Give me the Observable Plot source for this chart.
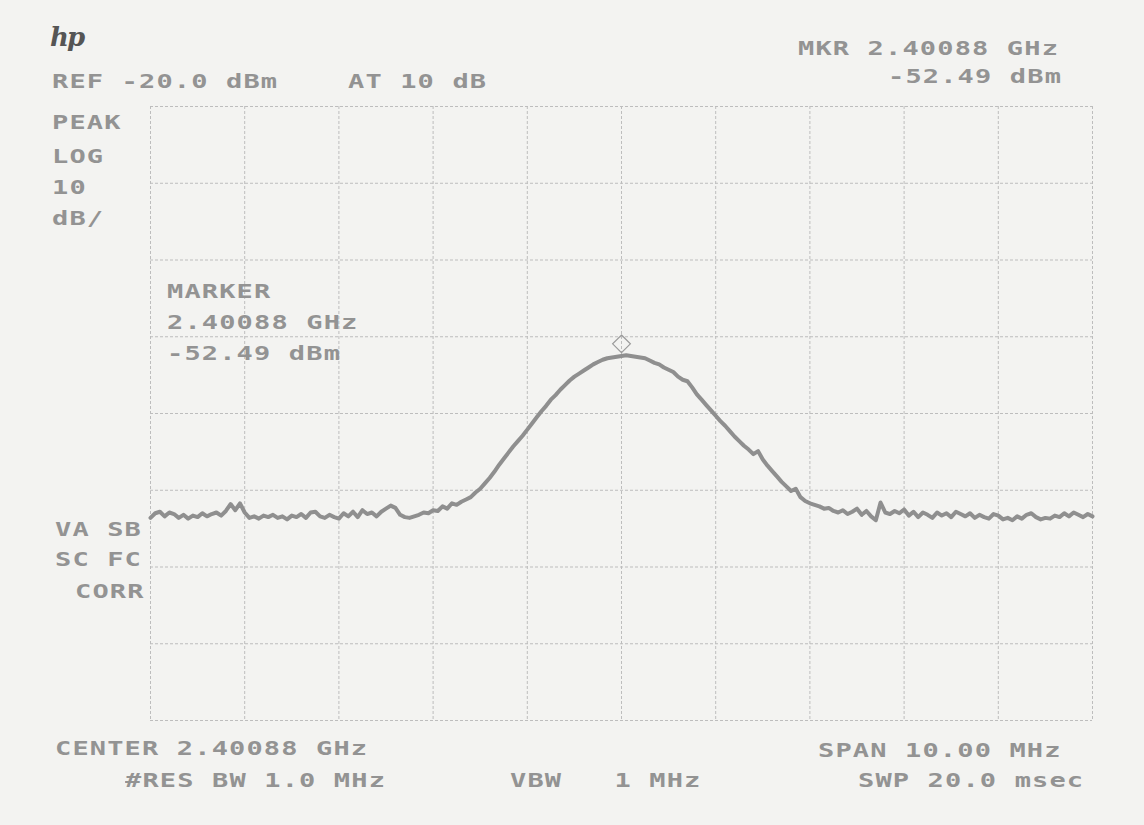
<!DOCTYPE html>
<html>
<head>
<meta charset="utf-8">
<script src="https://cdn.jsdelivr.net/npm/d3@7"></script>
<script src="https://cdn.jsdelivr.net/npm/@observablehq/plot@0.6"></script>
<style>
  html, body { margin: 0; padding: 0; background: #f3f3f1; }
  #wrap { position: relative; width: 1144px; height: 825px; overflow: hidden; background: #f3f3f1; }
  #wrap svg { position: absolute; left: 0; top: 0; background: transparent; }
  .t { position: absolute; font-family: "DejaVu Sans Mono", "Liberation Mono", monospace; font-size: 20px;
       font-weight: bold; line-height: 20px; letter-spacing: 0.85px; color: #939393; white-space: pre;
       transform: scaleX(1.35); transform-origin: 0 50%; }
  .logo { position: absolute; left: 50px; top: 22px; font-family: "DejaVu Serif", serif; font-style: italic;
          font-weight: bold; font-size: 26px; color: #555; letter-spacing: -2px; }
</style>
</head>
<body>
<div id="wrap"></div>
<script>
// ---- instrument settings (from the printout) ----
const centerGHz = 2.40088;
const spanMHz = 10.00;
const refLevel = -20.0;
const atten = 10;
const dbPerDiv = 10;
const resBW = 1.0;
const vbw = 1;
const sweepMs = 20.0;
const markerOffsetMHz = 0;
const markerLevel = -52.49;

// grid lines (frequency offset from center in MHz, level in dBm)
const gridFreqs = [-5, -4, -3, -2, -1, 0, 1, 2, 3, 4, 5];
const gridLevels = [-20, -30, -40, -50, -60, -70, -80, -90, -100];

// sweep trace: level (dBm) read every 0.05 MHz from -5 to +5 MHz
const sweepStart = -5, sweepStep = 0.05;
const levels = [
  -73.6,-73.0,-72.8,-73.4,-72.9,-73.1,-73.6,-73.2,-73.7,-73.3,
  -73.5,-73.0,-73.4,-73.1,-72.9,-73.3,-72.7,-71.8,-72.6,-71.7,
  -72.9,-73.6,-73.4,-73.7,-73.3,-73.5,-73.2,-73.6,-73.4,-73.8,
  -73.3,-73.5,-73.1,-73.6,-72.9,-72.8,-73.4,-73.6,-73.2,-73.5,
  -73.7,-73.0,-73.4,-72.8,-73.5,-72.6,-73.1,-72.9,-73.4,-72.8,
  -72.4,-72.0,-72.3,-73.2,-73.5,-73.6,-73.4,-73.2,-72.9,-73.0,
  -72.6,-72.7,-72.1,-72.4,-71.7,-71.9,-71.5,-71.2,-70.9,-70.3,
  -69.8,-69.1,-68.4,-67.6,-66.7,-65.9,-65.1,-64.3,-63.6,-62.9,
  -62.1,-61.3,-60.5,-59.7,-59.0,-58.2,-57.6,-56.9,-56.3,-55.7,
  -55.2,-54.8,-54.4,-54.0,-53.6,-53.3,-53.0,-52.8,-52.7,-52.6,
  -52.5,-52.4,-52.5,-52.6,-52.7,-52.8,-53.1,-53.4,-53.6,-54.0,
  -54.3,-54.6,-55.2,-55.6,-55.8,-56.6,-57.5,-58.2,-58.9,-59.6,
  -60.3,-61.0,-61.6,-62.3,-63.0,-63.6,-64.2,-64.7,-65.3,-64.9,
  -66.0,-66.8,-67.5,-68.2,-68.9,-69.5,-70.1,-69.8,-70.9,-71.4,
  -71.7,-71.9,-72.1,-72.4,-72.3,-72.7,-72.9,-72.6,-73.1,-72.8,
  -72.4,-73.2,-72.7,-73.4,-73.9,-71.6,-72.9,-73.1,-72.7,-73.0,
  -72.5,-73.3,-72.8,-73.5,-72.9,-73.2,-73.6,-72.9,-73.3,-73.0,
  -73.5,-72.8,-73.1,-73.4,-73.0,-73.6,-73.2,-73.5,-73.7,-73.1,
  -73.3,-73.8,-73.6,-73.9,-73.4,-73.7,-73.2,-73.0,-73.5,-73.8,
  -73.6,-73.7,-73.3,-73.5,-73.0,-73.4,-72.9,-73.2,-73.5,-73.1,
  -73.4
];

const trace = levels.map((v, i) => ({f: sweepStart + i * sweepStep, v}));
const marker = [{f: markerOffsetMHz, v: markerLevel}];

const gridStyle = {stroke: "#bdbdbd", strokeWidth: 1, strokeDasharray: "3,2"};

const chart = Plot.plot({
  width: 1144,
  height: 825,
  marginLeft: 150,
  marginRight: 52,
  marginTop: 106,
  marginBottom: 105,
  style: {background: "transparent"},
  x: {domain: [-spanMHz / 2, spanMHz / 2], axis: null},
  y: {domain: [refLevel - 8 * dbPerDiv, refLevel], axis: null},
  marks: [
    Plot.ruleX(gridFreqs, gridStyle),
    Plot.ruleY(gridLevels, gridStyle),
    Plot.line(trace, {x: "f", y: "v", stroke: "#8f8f8f", strokeWidth: 4, strokeLinejoin: "round"}),
    Plot.dot(marker, {x: "f", y: "v", symbol: "diamond2", r: 8, stroke: "#9a9a9a", strokeWidth: 1.2, fill: "none", dy: -12})
  ]
});

const wrap = document.getElementById("wrap");
wrap.appendChild(chart);

const f5 = v => v.toFixed(5);
const labels = [
  ["REF " + refLevel.toFixed(1) + " dBm", 52, 71],
  ["AT " + atten + " dB", 348, 71],
  ["MKR " + f5(centerGHz + markerOffsetMHz / 1000) + " GHz", 798, 38],
  [markerLevel.toFixed(2) + " dBm", 888, 66],
  ["PEAK", 52, 112],
  ["LOG", 52, 146],
  [String(dbPerDiv), 52, 177],
  ["dB/", 52, 208],
  ["MARKER", 167, 281],
  [f5(centerGHz + markerOffsetMHz / 1000) + " GHz", 167, 312],
  [markerLevel.toFixed(2) + " dBm", 167, 343],
  ["VA SB", 55, 519],
  ["SC FC", 55, 549],
  ["CORR", 75, 581],
  ["CENTER " + f5(centerGHz) + " GHz", 55, 738],
  ["#RES BW " + resBW.toFixed(1) + " MHz", 125, 770],
  ["VBW   " + vbw + " MHz", 510, 770],
  ["SPAN " + spanMHz.toFixed(2) + " MHz", 818, 740],
  ["SWP " + sweepMs.toFixed(1) + " msec", 858, 770]
];
for (const [txt, x, y] of labels) {
  const d = document.createElement("div");
  d.className = "t";
  d.textContent = txt;
  d.style.left = x + "px";
  d.style.top = y + "px";
  wrap.appendChild(d);
}
const logo = document.createElement("div");
logo.className = "logo";
logo.textContent = "hp";
wrap.appendChild(logo);
</script>
</body>
</html>
